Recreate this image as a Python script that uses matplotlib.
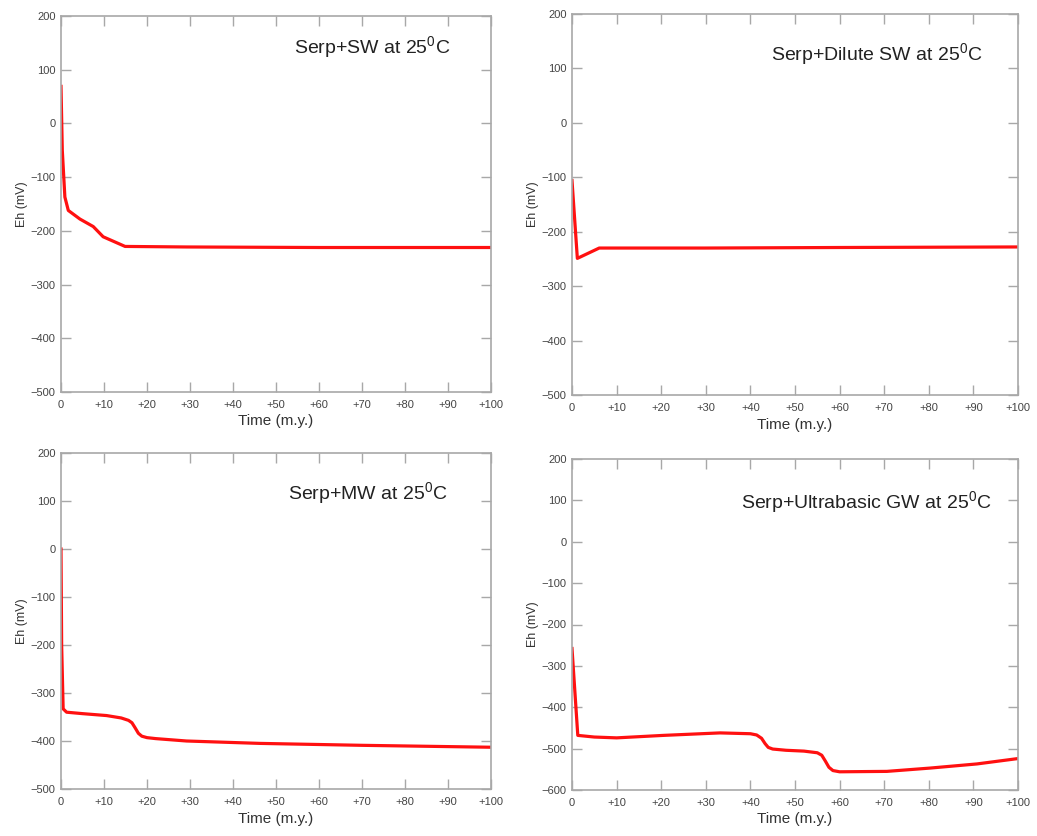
import matplotlib
matplotlib.use("Agg")
import matplotlib.pyplot as plt
import numpy as np

plt.rcParams['font.family'] = ['Liberation Sans', 'DejaVu Sans']
plt.rcParams['mathtext.default'] = 'regular'

# ---- data ----
t_sw = [0, 0.3, 0.9, 1.7, 4.4, 7.5, 9.8, 14.9, 29.2, 60, 100]
eh_sw = [69, -50, -137, -162, -178, -192, -211, -229, -230, -231, -231]

t_dsw = [0, 1.2, 6.1, 30, 60, 100]
eh_dsw = [-106, -249, -230, -230, -229, -228]

t_mw = [0, 0.15, 0.5, 1.3, 5, 10.6, 14, 15.7, 16.5, 17.2, 18.0, 18.8, 20.0, 22.0, 29.2, 46.3, 70, 100]
eh_mw = [0, -200, -333, -340, -343, -347, -352, -357, -362, -372, -384, -390, -393, -395, -400, -405, -409, -413]

t_gw = [0, 1.3, 5, 10, 20.5, 33.2, 40, 41.4, 42.5, 43.3, 44, 45, 48, 52, 55, 56, 56.8, 57.6, 58.5, 60, 70.6, 80.3, 90.8, 100]
eh_gw = [-258, -468, -472, -474, -468, -462, -464, -467, -475, -488, -497, -501, -504, -506, -510, -516, -530, -545, -553, -556, -555, -547, -537, -524]

titles = ['Serp+SW at 25$^{0}$C', 'Serp+Dilute SW at 25$^{0}$C',
          'Serp+MW at 25$^{0}$C', 'Serp+Ultrabasic GW at 25$^{0}$C']
x_ticks = [0, 10, 20, 30, 40, 50, 60, 70, 80, 90, 100]
x_labels = ['0'] + ['+%d' % v for v in x_ticks[1:]]

series = [(t_sw, eh_sw), (t_dsw, eh_dsw), (t_mw, eh_mw), (t_gw, eh_gw)]
ylims = [(-500, 200), (-500, 200), (-500, 200), (-600, 200)]

# axes rectangles [left, bottom, width, height] in figure fraction
W, H = 1037, 836
def rect(x0, x1, ytop, ybot):
    return [x0 / W, 1 - ybot / H, (x1 - x0) / W, (ybot - ytop) / H]

rects = [rect(61, 491, 16, 392), rect(572, 1018, 14, 395),
         rect(61, 491, 453, 789), rect(572, 1018, 459, 790)]
title_pos = [(372, 47), (877, 54), (368, 493), (866, 502)]

fig = plt.figure(figsize=(W / 100, H / 100), dpi=100)
gray = '#a8a8a8'
for i in range(4):
    ax = fig.add_axes(rects[i])
    t, e = series[i]
    ax.plot(t, e, color='#ff1010', lw=2.3, solid_joinstyle='round')
    ax.set_xlim(0, 100)
    ax.set_ylim(*ylims[i])
    ax.set_xticks(x_ticks)
    ax.set_xticklabels(x_labels)
    yt = list(range(ylims[i][0], ylims[i][1] + 1, 100))
    ax.set_yticks(yt)
    ax.set_yticklabels([('\u2212%d' % -v) if v < 0 else '%d' % v for v in yt])
    for s in ax.spines.values():
        s.set_color(gray)
        s.set_linewidth(1.2)
    ax.tick_params(direction='in', length=7, width=1.0, color=gray,
                   top=True, right=True, labelsize=8, labelcolor='#444444')
    ax.tick_params(axis='x', pad=6)
    ax.tick_params(axis='y', pad=4)
    ax.set_xlabel('Time (m.y.)', fontsize=11, color='#333333', labelpad=3)
    ax.set_ylabel('Eh (mV)', fontsize=9, color='#333333', labelpad=2)
    tx, ty = title_pos[i]
    fig.text(tx / W, 1 - ty / H, titles[i], fontsize=14, ha='center', va='center',
             color='#222222')

fig.savefig('out.png', dpi=100)
